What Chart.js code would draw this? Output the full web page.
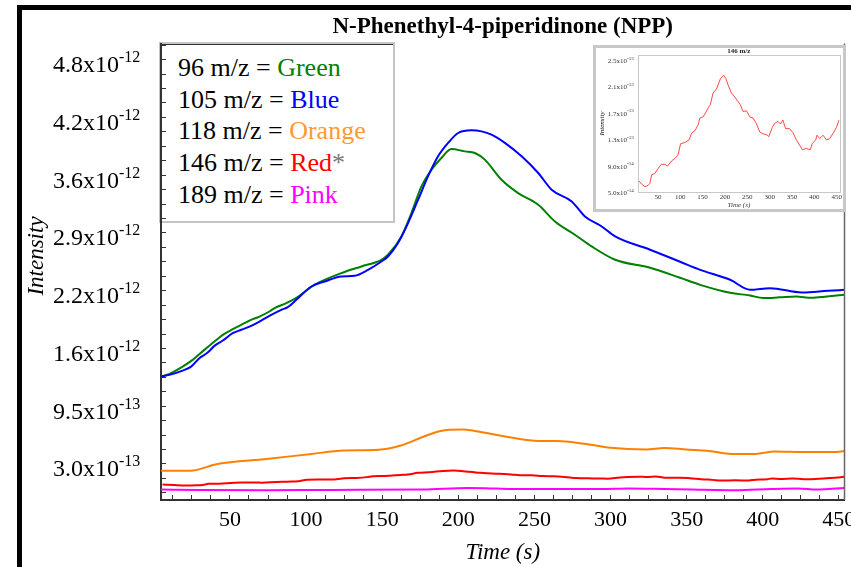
<!DOCTYPE html>
<html>
<head>
<meta charset="utf-8">
<script src="https://cdn.jsdelivr.net/npm/chart.js@4.4.1/dist/chart.umd.min.js"></script>
<style>
html,body{margin:0;padding:0;background:#fff;}
#wrap{position:relative;width:851px;height:567px;overflow:hidden;background:#fff;}
#frame{position:absolute;left:17px;top:5px;width:900px;height:600px;border-left:5px solid #000;border-top:5px solid #000;z-index:0;}
#legend{position:absolute;left:159px;top:42px;width:236px;height:181px;box-sizing:border-box;border:2px solid #c4c4c4;background:#fff;box-shadow:inset 1px 1px 0 #333;font-family:"Liberation Serif",serif;font-size:26px;line-height:31.7px;color:#000;padding:8px 0 0 17px;z-index:1;white-space:nowrap;}
#main{position:absolute;left:0;top:0;z-index:2;}
#insetBox{position:absolute;left:593px;top:45px;width:253px;height:167px;box-sizing:border-box;border:3px solid #c8c8c8;background:#fff;z-index:3;}
#inset{position:absolute;left:0;top:0;}
</style>
</head>
<body>
<div id="wrap">
  <div id="frame"></div>
  <div id="legend"></div>
  <canvas id="main" width="880" height="567"></canvas>
  <div id="insetBox"><canvas id="inset" width="247" height="161"></canvas></div>
</div>
<script>
// ---------- data (time in s, intensity) ----------
const timeGreen = [4.7, 10.2, 18.9, 25.5, 33.2, 39.8, 45.3, 51.8, 59.5, 62.8, 69.4, 75.9, 79.3, 87.0, 93.6, 105.6, 123.2, 136.3, 149.5, 153.8, 162.6, 169.2, 175.8, 182.4, 188.9, 195.5, 204.3, 210.9, 217.4, 228.4, 239.3, 252.5, 263.5, 276.6, 287.6, 303.0, 326.0, 345.7, 358.9, 378.6, 391.7, 400.2, 411.0, 421.9, 432.0, 442.2, 454.0];
const intensityGreen = [1.283e-12, 1.314e-12, 1.396e-12, 1.472e-12, 1.584e-12, 1.678e-12, 1.753e-12, 1.817e-12, 1.885e-12, 1.914e-12, 1.959e-12, 2.016e-12, 2.054e-12, 2.110e-12, 2.170e-12, 2.316e-12, 2.448e-12, 2.523e-12, 2.598e-12, 2.654e-12, 2.861e-12, 3.124e-12, 3.424e-12, 3.612e-12, 3.744e-12, 3.845e-12, 3.818e-12, 3.800e-12, 3.725e-12, 3.499e-12, 3.349e-12, 3.218e-12, 3.029e-12, 2.880e-12, 2.748e-12, 2.598e-12, 2.508e-12, 2.395e-12, 2.316e-12, 2.226e-12, 2.196e-12, 2.167e-12, 2.175e-12, 2.185e-12, 2.170e-12, 2.185e-12, 2.204e-12];

const timeBlue = [4.7, 10.2, 18.9, 24.5, 29.9, 35.4, 39.8, 45.3, 51.8, 57.4, 63.9, 70.5, 77.1, 83.7, 88.0, 93.6, 103.4, 112.2, 123.2, 131.9, 140.7, 149.5, 153.8, 160.4, 167.0, 173.6, 180.1, 186.7, 193.3, 199.9, 208.7, 215.3, 221.8, 230.6, 241.6, 252.5, 261.3, 274.5, 283.2, 294.2, 303.0, 326.0, 345.7, 358.9, 378.6, 391.7, 404.8, 425.8, 442.9, 453.7];
const intensityBlue = [1.283e-12, 1.303e-12, 1.351e-12, 1.396e-12, 1.491e-12, 1.554e-12, 1.629e-12, 1.689e-12, 1.772e-12, 1.810e-12, 1.855e-12, 1.914e-12, 1.978e-12, 2.035e-12, 2.065e-12, 2.147e-12, 2.297e-12, 2.354e-12, 2.410e-12, 2.418e-12, 2.485e-12, 2.579e-12, 2.635e-12, 2.786e-12, 3.011e-12, 3.274e-12, 3.536e-12, 3.762e-12, 3.913e-12, 4.025e-12, 4.055e-12, 4.043e-12, 4.006e-12, 3.913e-12, 3.762e-12, 3.575e-12, 3.387e-12, 3.255e-12, 3.086e-12, 2.973e-12, 2.861e-12, 2.711e-12, 2.576e-12, 2.485e-12, 2.373e-12, 2.260e-12, 2.279e-12, 2.230e-12, 2.249e-12, 2.260e-12];

const timeOrange = [4.7, 24.0, 41.8, 74.0, 103.6, 124.7, 147.7, 162.2, 176.6, 188.5, 203.0, 210.9, 232.6, 253.0, 264.8, 282.6, 300.0, 323.4, 335.2, 349.7, 364.8, 379.3, 393.8, 408.2, 426.0, 446.7, 453.7];
const intensityOrange = [0.225e-12, 0.225e-12, 0.300e-12, 0.356e-12, 0.413e-12, 0.452e-12, 0.460e-12, 0.508e-12, 0.604e-12, 0.672e-12, 0.688e-12, 0.672e-12, 0.604e-12, 0.559e-12, 0.559e-12, 0.528e-12, 0.482e-12, 0.463e-12, 0.480e-12, 0.463e-12, 0.446e-12, 0.413e-12, 0.413e-12, 0.441e-12, 0.435e-12, 0.435e-12, 0.446e-12];

const timeRed = [5.7, 13.6, 21, 28, 32, 36, 43, 50.7, 58, 66, 71, 80.5, 88, 95, 100.6, 110, 120, 125, 133, 140, 143.8, 151, 155, 162, 167, 173.4, 181, 190, 197, 202, 207, 214.5, 222, 227, 234.6, 240.5, 248, 255.4, 263, 270, 277.7, 285, 292.6, 298, 306, 311, 318.7, 324, 329.7, 335.6, 344.6, 352, 359.6, 367, 373, 382, 391, 395, 403, 406, 412, 419.6, 427, 434.6, 442, 449.6, 455];
const intensityRed = [6.8e-14, 6.2e-14, 5.8e-14, 6.0e-14, 6.3e-14, 7.6e-14, 7.8e-14, 8.6e-14, 9.2e-14, 9.2e-14, 8.9e-14, 9.7e-14, 10.1e-14, 10.6e-14, 12.3e-14, 12.5e-14, 12.9e-14, 13.9e-14, 14.3e-14, 15.2e-14, 16.2e-14, 16.4e-14, 16.8e-14, 17.7e-14, 18.2e-14, 20.0e-14, 20.6e-14, 22.2e-14, 22.7e-14, 22.2e-14, 21.2e-14, 20.0e-14, 19.4e-14, 18.9e-14, 18.2e-14, 17.2e-14, 17.3e-14, 16.4e-14, 16.2e-14, 15.4e-14, 14.1e-14, 13.8e-14, 13.7e-14, 13.4e-14, 14.8e-14, 15.4e-14, 15.7e-14, 15.3e-14, 15.9e-14, 14.6e-14, 14.6e-14, 14.0e-14, 12.9e-14, 12.1e-14, 11.4e-14, 11.6e-14, 11.4e-14, 12.3e-14, 12.9e-14, 13.6e-14, 13.1e-14, 13.6e-14, 12.9e-14, 13.1e-14, 13.9e-14, 14.8e-14, 15.9e-14];

const timePink = [4.7, 29.9, 74, 118, 176.6, 206.2, 218, 235.2, 294, 311.7, 335.2, 353, 382.3, 405.6, 423.4, 435.3, 453.7];
const intensityPink = [0.012e-12, 0.006e-12, 0.004e-12, 0.008e-12, 0.012e-12, 0.030e-12, 0.028e-12, 0.018e-12, 0.018e-12, 0.024e-12, 0.018e-12, 0.012e-12, 0.004e-12, 0.018e-12, 0.024e-12, 0.012e-12, 0.030e-12];

// ---------- ticks and legend text ----------
const xTickLabels = [50, 100, 150, 200, 250, 300, 350, 400, 450];
const yTickValues = [0.30e-12, 0.95e-12, 1.60e-12, 2.25e-12, 2.90e-12, 3.55e-12, 4.20e-12, 4.85e-12];
const yTickMantissa = ['3.0', '9.5', '1.6', '2.2', '2.9', '3.6', '4.2', '4.8'];
const yTickExponent = ['-13', '-13', '-12', '-12', '-12', '-12', '-12', '-12'];
const insetYTickValues = [5.0e-14, 9.0e-14, 1.3e-13, 1.7e-13, 2.1e-13, 2.5e-13];
const insetYTickMantissa = ['5.0', '9.0', '1.3', '1.7', '2.1', '2.5'];
const insetYTickExponent = ['-14', '-14', '-13', '-13', '-13', '-13'];
const legendMz = ['96', '105', '118', '146', '189'];
const legendColourNames = ['Green', 'Blue', 'Orange', 'Red', 'Pink'];
const legendTextColours = ['#008000', '#0000ff', '#ff9933', '#ff0000', '#ff00ff'];
const legendSuffix = ['', '', '', '*', ''];

// ---------- legend (HTML text) ----------
const legendEl = document.getElementById('legend');
legendMz.forEach((mz, i) => {
  const row = document.createElement('div');
  const a = document.createElement('span'); a.textContent = mz + ' m/z = ';
  const b = document.createElement('span'); b.textContent = legendColourNames[i]; b.style.color = legendTextColours[i];
  row.appendChild(a); row.appendChild(b);
  if (legendSuffix[i]) { const c = document.createElement('span'); c.textContent = legendSuffix[i]; c.style.color = '#777'; row.appendChild(c); }
  legendEl.appendChild(row);
});

const SERIF = '"Liberation Serif", "Times New Roman", serif';
function pts(t, v) { return t.map((x, i) => ({ x: x, y: v[i] })); }

// plugin: superscript y tick labels, rotated y title, frame lines
const decorPlugin = {
  id: 'decor',
  afterDraw(chart, args, o) {
    const ctx = chart.ctx, s = chart.scales.y, ca = chart.chartArea;
    ctx.save();
    ctx.fillStyle = o.color;
    for (let i = 0; i < o.values.length; i++) {
      const y = s.getPixelForValue(o.values[i]);
      ctx.textBaseline = 'alphabetic';
      ctx.font = o.mFont; ctx.textAlign = 'right';
      ctx.fillText(o.mant[i] + 'x10', o.x, y + o.mOff);
      ctx.font = o.eFont; ctx.textAlign = 'left';
      ctx.fillText(o.exp[i], o.x, y + o.eOff);
    }
    if (o.titleText) {
      ctx.save();
      ctx.translate(o.titleX, o.titleY); ctx.rotate(-Math.PI / 2);
      ctx.font = o.titleFont; ctx.textAlign = 'center'; ctx.textBaseline = 'middle';
      ctx.fillStyle = '#000';
      ctx.fillText(o.titleText, 0, 0);
      ctx.restore();
    }
    if (o.rightLine) {
      ctx.strokeStyle = o.rightLine; ctx.lineWidth = 1.5;
      ctx.beginPath(); ctx.moveTo(ca.right, ca.top); ctx.lineTo(ca.right, ca.bottom); ctx.stroke();
    }
    if (o.box) {
      ctx.strokeStyle = o.box; ctx.lineWidth = 1;
      ctx.strokeRect(Math.round(ca.left) + 0.5, Math.round(ca.top) + 0.5, Math.round(ca.right - ca.left), Math.round(ca.bottom - ca.top));
    }
    ctx.restore();
  }
};

// ---------- main chart ----------
new Chart(document.getElementById('main'), {
  type: 'line',
  plugins: [decorPlugin],
  data: {
    datasets: [
      { label: '105 m/z', data: pts(timeBlue, intensityBlue), borderColor: '#0000ff', order: 0 },
      { label: '96 m/z', data: pts(timeGreen, intensityGreen), borderColor: '#008000', order: 1 },
      { label: '118 m/z', data: pts(timeOrange, intensityOrange), borderColor: '#ff8000', order: 2 },
      { label: '146 m/z', data: pts(timeRed, intensityRed), borderColor: '#ff0000', order: 3 },
      { label: '189 m/z', data: pts(timePink, intensityPink), borderColor: '#ff00ff', order: 4 }
    ]
  },
  options: {
    responsive: false, animation: false, devicePixelRatio: 1,
    elements: { line: { borderWidth: 2, fill: false, cubicInterpolationMode: 'monotone' }, point: { radius: 0 } },
    layout: { padding: { left: 20, right: 35.5, top: 13, bottom: 0 } },
    plugins: {
      legend: { display: false }, tooltip: { enabled: false },
      title: { display: true, text: 'N-Phenethyl-4-piperidinone (NPP)', fullSize: false, color: '#000',
        font: { family: SERIF, size: 23, weight: 'bold', lineHeight: 1.2 }, padding: { top: 0, bottom: 3 } },
      decor: {
        color: '#000', values: yTickValues, mant: yTickMantissa, exp: yTickExponent,
        x: 119, mOff: 12.5, eOff: 2.5,
        mFont: '24px ' + SERIF, eFont: '16px ' + SERIF,
        titleText: 'Intensity', titleX: 37, titleY: 256, titleFont: 'italic 23px ' + SERIF,
        rightLine: '#666'
      }
    },
    scales: {
      x: {
        type: 'linear', min: 4.7, max: 453.7,
        afterBuildTicks(scale) { const t = []; for (let k = 1; k <= 36; k++) t.push({ value: 12.5 * k }); scale.ticks = t; },
        afterFit(scale) { scale.height = 67; },
        ticks: { autoSkip: false, maxRotation: 0, color: '#000', padding: 12, font: { family: SERIF, size: 22 },
          callback(v) { return xTickLabels.includes(v) ? String(v) : ''; } },
        grid: { display: true, drawOnChartArea: false, drawTicks: true, tickLength: -5, color: '#333' },
        border: { display: true, color: '#333', width: 2 },
        title: { display: true, text: 'Time (s)', color: '#000', font: { family: SERIF, size: 23, style: 'italic' }, padding: { top: 0, bottom: 0 } }
      },
      y: {
        type: 'linear', min: -0.1055e-12, max: 5.031e-12,
        afterBuildTicks(scale) { const t = []; for (let k = -2; k <= 29; k++) t.push({ value: yTickValues[0] + k * (yTickValues[1] - yTickValues[0]) / 4 }); scale.ticks = t; },
        afterFit(scale) { scale.width = 141; },
        ticks: { display: false },
        grid: { display: true, drawOnChartArea: false, drawTicks: true, tickLength: -5, color: '#333' },
        border: { display: true, color: '#333', width: 2 }
      }
    }
  }
});

// ---------- inset chart ----------
new Chart(document.getElementById('inset'), {
  type: 'line',
  plugins: [decorPlugin],
  data: { datasets: [ { label: '146 m/z', data: pts(timeRed, intensityRed), borderColor: 'rgba(255,40,40,0.85)', borderWidth: 1 } ] },
  options: {
    responsive: false, animation: false, devicePixelRatio: 1,
    elements: { line: { fill: false }, point: { radius: 0 } },
    layout: { padding: { left: 0, right: 3, top: 0, bottom: 0 } },
    plugins: {
      legend: { display: false }, tooltip: { enabled: false },
      title: { display: true, text: '146 m/z', fullSize: false, color: '#222',
        font: { family: SERIF, size: 7, weight: 'bold', lineHeight: 1.0 }, padding: 0 },
      decor: {
        color: '#333', values: insetYTickValues, mant: insetYTickMantissa, exp: insetYTickExponent,
        x: 31, mOff: 3, eOff: -0.5,
        mFont: '7px ' + SERIF, eFont: '5px ' + SERIF,
        titleText: 'Intensity', titleX: 6.5, titleY: 75.5, titleFont: 'italic 7px ' + SERIF,
        box: '#c8c8c8'
      }
    },
    scales: {
      x: {
        type: 'linear', min: 5.4, max: 456.7,
        afterBuildTicks(scale) { scale.ticks = xTickLabels.map(v => ({ value: v })); },
        afterFit(scale) { scale.height = 17; },
        ticks: { autoSkip: false, maxRotation: 0, color: '#333', padding: 1, font: { family: SERIF, size: 7 } },
        grid: { display: false, drawTicks: false },
        border: { display: false },
        title: { display: true, text: 'Time (s)', color: '#333', font: { family: SERIF, size: 7, style: 'italic' }, padding: { top: 0, bottom: 0 } }
      },
      y: {
        type: 'linear', min: 5.0e-14, max: 25.76e-14,
        afterFit(scale) { scale.width = 42; },
        ticks: { display: false },
        grid: { display: false, drawTicks: false },
        border: { display: false }
      }
    }
  }
});
</script>
</body>
</html>
